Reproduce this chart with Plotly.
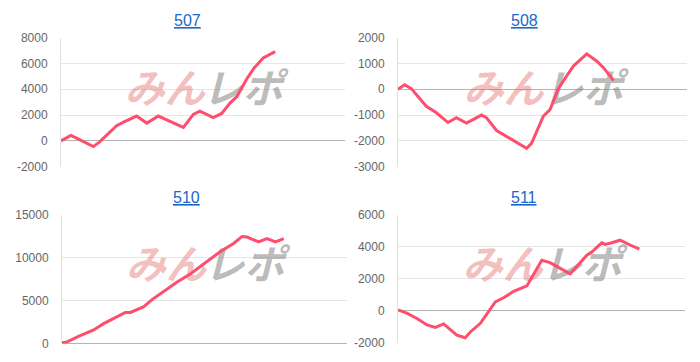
import plotly.graph_objects as go

# ---------------- data ----------------
titles = ["507", "508", "510", "511"]

x507 = [0, 1.5, 3.5, 6, 9, 11.4, 13.5, 16.1, 19.6, 22, 24, 26.6, 30.2, 34.3, 38, 43.1, 46.6, 48.9, 53.6, 56.6, 59.5, 61.9, 65.4, 68, 71.2, 73, 75.4]
y507 = [0, 200, 425, 150, -150, -450, -100, 425, 1175, 1450, 1650, 1925, 1375, 1925, 1550, 1050, 2050, 2300, 1800, 2125, 2925, 3425, 4800, 5650, 6425, 6650, 6925]

x508 = [0, 2.3, 4.6, 6.9, 9.8, 13.3, 17.3, 20.2, 23.7, 28.9, 30.6, 34.1, 41, 44.5, 46.2, 50.3, 52.6, 55.5, 58.4, 60.7, 65.3, 68.8, 71.1, 74.6]
y508 = [0, 175, 25, -290, -660, -910, -1290, -1100, -1310, -1000, -1100, -1600, -2040, -2290, -2100, -1040, -790, 25, 525, 900, 1375, 1090, 840, 340]

x510 = [0, 1.8, 5.8, 11.1, 14.6, 18.7, 22.2, 24, 28.7, 31.6, 40.4, 45, 49.7, 55.6, 60.2, 63.2, 64.9, 69, 71.9, 74.9, 77.8]
y510 = [75, 187, 820, 1570, 2310, 3060, 3620, 3620, 4290, 5110, 7160, 8100, 9220, 10710, 11640, 12460, 12390, 11830, 12200, 11830, 12200]

x511 = [0, 3.1, 6.6, 10.1, 13, 15.9, 20.5, 23.4, 25.2, 28.7, 33.9, 36.8, 40.3, 44.9, 50.1, 53, 55.9, 60, 65.8, 67.5, 71, 72.2, 74.5, 77.4, 80.9, 84.1]
y511 = [40, -160, -500, -900, -1060, -840, -1540, -1700, -1340, -800, 540, 800, 1200, 1540, 3140, 3000, 2700, 2300, 3460, 3660, 4240, 4140, 4240, 4400, 4100, 3840]

y_ranges = [[-2000, 8000], [-3000, 2000], [0, 15000], [-2000, 6000]]
y_dticks = [2000, 1000, 5000, 2000]

series = [(x507, y507), (x508, y508), (x510, y510), (x511, y511)]

# ---------------- layout geometry (pixels) ----------------
W, H = 700, 362
boxes = [  # left, right, top, bottom in px
    (61, 345, 32, 166),
    (398, 687, 32, 166),
    (62, 347, 216, 350),
    (398, 685, 216, 349),
]
title_pos = [(187, 14), (524, 14), (186, 198), (524, 198)]

LINE = "#ff4d6d"
FONT = "Liberation Sans, Arial, sans-serif"

fig = go.Figure()
layout = dict(
    width=W, height=H, margin=dict(l=0, r=0, t=0, b=0),
    paper_bgcolor="white", plot_bgcolor="white", showlegend=False,
    font=dict(family=FONT, size=12, color="#666666"),
)
annotations = []
for i, ((xs, ys), (l, r, t, b)) in enumerate(zip(series, boxes)):
    n = "" if i == 0 else str(i + 1)
    xa, ya = "x" + n, "y" + n
    lo, hi = y_ranges[i]
    tvals = list(range(lo, hi + 1, y_dticks[i]))
    ttext = [str(v) for v in tvals]
    layout["xaxis" + n] = dict(
        domain=[l / W, r / W], range=[0, 100], showgrid=False, zeroline=False,
        showticklabels=False, ticks="", showline=False, anchor=ya, fixedrange=True,
    )
    layout["yaxis" + n] = dict(
        domain=[1 - b / H, 1 - t / H], range=y_ranges[i],
        tickmode="array", tickvals=tvals, ticktext=ttext,
        showgrid=True, gridcolor="#e6e6e6", gridwidth=1,
        zeroline=True, zerolinecolor="#b4b4b4", zerolinewidth=1,
        showline=True, linecolor="#e0e0e0", linewidth=1,
        ticks="", ticklabelstandoff=10, tickfont=dict(size=12, color="#666666"),
        anchor=xa, fixedrange=True,
    )
    # watermark (behind the line)
    wy = lo + 0.575 * (hi - lo)
    fig.add_trace(go.Scatter(
        x=[36.5, 64], y=[wy, wy], mode="text", text=["みん", "レポ"],
        textfont=dict(family="Noto Sans CJK JP", size=40, weight="bold", style="italic",
                      color=["rgba(226,100,100,0.42)", "rgba(130,130,130,0.55)"]),
        textposition="middle center", hoverinfo="skip", xaxis=xa, yaxis=ya,
    ))
    fig.add_trace(go.Scatter(
        x=xs, y=ys, mode="lines", line=dict(color=LINE, width=3),
        xaxis=xa, yaxis=ya, hoverinfo="skip",
    ))
    tx, ty = title_pos[i]
    annotations.append(dict(
        x=tx / W, y=1 - ty / H, xref="paper", yref="paper", showarrow=False,
        text="<u>" + titles[i] + "</u>", font=dict(size=16, color="#1a66cc", family=FONT),
        xanchor="center", yanchor="middle",
    ))

layout["annotations"] = annotations
fig.update_layout(**layout)
fig.write_html("out.html")
